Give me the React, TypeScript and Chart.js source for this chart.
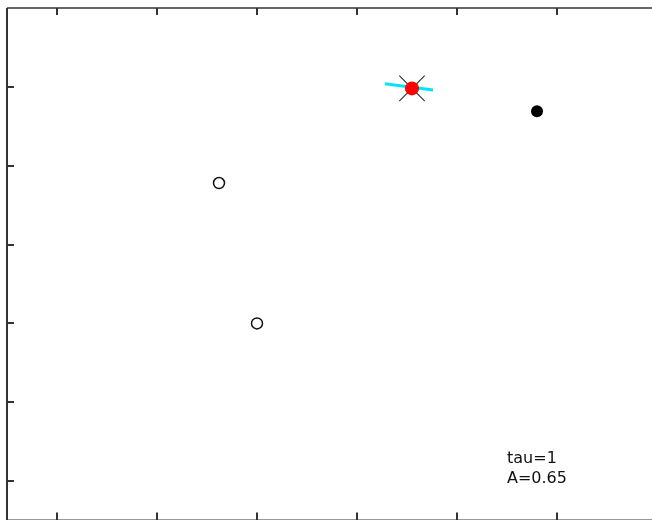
import React, { useEffect, useRef } from "react";
import { Chart, registerables } from "chart.js";

Chart.register(...registerables);

// Axis ranges and tick values (no tick labels shown in the reference)
const xRange = [-0.5, 6.02];
const yRange = [0.5, 7.0];
const xTicks = [0, 1, 2, 3, 4, 5];
const yTicks = [1, 2, 3, 4, 5, 6];

// Series
const openX = [1.62, 2.0];
const openY = [4.78, 3.0];
const filledX = [4.8];
const filledY = [5.69];
const redX = [3.55];
const redY = [5.98];
const segX = [3.28, 3.76];
const segY = [6.04, 5.96];

// Annotation
const noteLines = ["tau=1", "A=0.65"];
const noteAt = { x: 4.5, y: 1.23 };

const zip = (xs: number[], ys: number[]) => xs.map((x, i) => ({ x, y: ys[i] }));

const framePlugin = {
  id: "frame",
  afterDatasetsDraw(chart: any) {
    const { ctx, chartArea: a, scales } = chart;
    const xs = scales.x;
    const ys = scales.y;
    ctx.save();
    // box
    ctx.lineWidth = 2;
    ctx.strokeStyle = "#666";
    ctx.beginPath();
    ctx.moveTo(a.left, a.top);
    ctx.lineTo(a.right, a.top);
    ctx.stroke();
    ctx.strokeStyle = "#333";
    ctx.beginPath();
    ctx.moveTo(a.left, a.top);
    ctx.lineTo(a.left, a.bottom);
    ctx.moveTo(a.right, a.top);
    ctx.lineTo(a.right, a.bottom);
    ctx.moveTo(a.left, a.bottom);
    ctx.lineTo(a.right, a.bottom);
    ctx.stroke();
    // inward ticks
    const L = 7;
    ctx.strokeStyle = "#333";
    ctx.beginPath();
    xTicks.forEach((v) => {
      const px = Math.round(xs.getPixelForValue(v));
      ctx.moveTo(px, a.top);
      ctx.lineTo(px, a.top + L);
      ctx.moveTo(px, a.bottom);
      ctx.lineTo(px, a.bottom - L - 1);
    });
    yTicks.forEach((v) => {
      const py = Math.round(ys.getPixelForValue(v));
      ctx.moveTo(a.left, py);
      ctx.lineTo(a.left + L, py);
      ctx.moveTo(a.right, py);
      ctx.lineTo(a.right - L, py);
    });
    ctx.stroke();
    // text
    ctx.fillStyle = "#111";
    ctx.font = '16px "DejaVu Sans"';
    ctx.textBaseline = "alphabetic";
    ctx.textAlign = "left";
    const tx = xs.getPixelForValue(noteAt.x);
    const ty = ys.getPixelForValue(noteAt.y);
    noteLines.forEach((t, i) => ctx.fillText(t, tx, ty + i * 20));
    ctx.restore();
  },
};

export default function App() {
  const ref = useRef<HTMLCanvasElement | null>(null);
  useEffect(() => {
    if (!ref.current) return;
    const chart = new Chart(ref.current, {
      type: "scatter",
      data: {
        datasets: [
          {
            data: zip(redX, redY),
            pointStyle: "circle",
            pointRadius: 7,
            backgroundColor: "#ff0000",
            borderColor: "#ff0000",
            borderWidth: 0,
          },
          {
            data: zip(redX, redY),
            pointStyle: "crossRot",
            pointRadius: 18,
            borderColor: "#333",
            borderWidth: 1.2,
          },
          {
            data: zip(segX, segY),
            showLine: true,
            pointRadius: 0,
            borderColor: "#00e5ff",
            borderWidth: 3,
          },
          {
            data: zip(filledX, filledY),
            pointStyle: "circle",
            pointRadius: 6,
            backgroundColor: "#000",
            borderColor: "#000",
            borderWidth: 0,
          },
          {
            data: zip(openX, openY),
            pointStyle: "circle",
            pointRadius: 5.5,
            backgroundColor: "#fff",
            borderColor: "#111",
            borderWidth: 1.5,
          },
        ],
      },
      options: {
        responsive: false,
        animation: false,
        layout: {
          autoPadding: false,
          padding: { left: 7, top: 8, right: 666 - 659, bottom: 526 - 520.5 },
        },
        plugins: { legend: { display: false }, tooltip: { enabled: false } },
        scales: {
          x: { type: "linear", min: xRange[0], max: xRange[1], display: false },
          y: { type: "linear", min: yRange[0], max: yRange[1], display: false },
        },
      },
      plugins: [framePlugin],
    });
    return () => chart.destroy();
  }, []);
  return (
    <div
      style={{
        position: "fixed",
        left: 0,
        top: 0,
        width: 652,
        height: 520,
        overflow: "hidden",
        background: "#fff",
      }}
    >
      <canvas ref={ref} width={666} height={526} style={{ display: "block" }} />
    </div>
  );
}
